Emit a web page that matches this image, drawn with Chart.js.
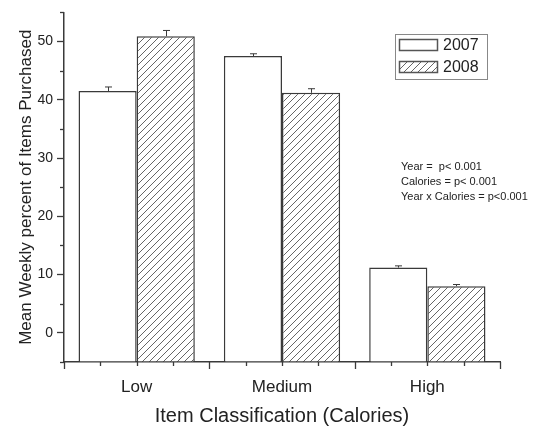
<!DOCTYPE html>
<html>
<head>
<meta charset="utf-8">
<script src="https://cdn.jsdelivr.net/npm/chart.js@4/dist/chart.umd.min.js"></script>
<style>
  html, body { margin: 0; padding: 0; background: #fff; }
  #wrap { width: 534px; height: 431px; }
</style>
</head>
<body>
<div id="wrap"><canvas id="bars" width="534" height="431"></canvas></div>
<script>
// values
var categories = ["Low", "Medium", "High"];
var years = ["2007", "2008"];
var mean2007 = [41.5, 47.5, 11.2];
var mean2008 = [50.9, 41.2, 8.0];
var err2007 = [0.7, 0.4, 0.3];
var err2008 = [1.0, 0.7, 0.3];
var notes = ["Year =  p< 0.001", "Calories = p< 0.001", "Year x Calories = p<0.001"];

var ink = "#3a3a3a";
var canvas = document.getElementById("bars");
var ctx = canvas.getContext("2d");

// diagonal hatch for 2008
function hatch() {
	var t = document.createElement("canvas");
	t.width = 7; t.height = 7;
	var g = t.getContext("2d");
	g.fillStyle = "#fff";
	g.fillRect(0, 0, 7, 7);
	g.strokeStyle = "#666";
	g.lineWidth = 1;
	g.beginPath();
	g.moveTo(0, 7); g.lineTo(7, 0);
	g.moveTo(-1, 1); g.lineTo(1, -1);
	g.moveTo(6, 8); g.lineTo(8, 6);
	g.stroke();
	return ctx.createPattern(t, "repeat");
}
var hatchFill = hatch();

// error caps, minor ticks, legend box and the p-value notes
var extras = {
	id: "extras",
	afterDatasetsDraw: function(chart) {
		var c = chart.ctx;
		var y = chart.scales.y, x = chart.scales.x;
		var errs = [err2007, err2008];
		c.save();
		c.strokeStyle = ink;
		c.lineWidth = 1;
		chart.data.datasets.forEach(function(ds, di) {
			var meta = chart.getDatasetMeta(di);
			meta.data.forEach(function(bar, i) {
				var top = y.getPixelForValue(ds.data[i] + errs[di][i]);
				var cx = Math.round(bar.x) + 0.5;
				c.beginPath();
				c.moveTo(cx, bar.y);
				c.lineTo(cx, top);
				c.moveTo(cx - 3.5, top);
				c.lineTo(cx + 3.5, top);
				c.stroke();
			});
		});

		// y minor ticks every 5
		c.lineWidth = 1.3;
		for (var v = -5; v <= 55; v += 10) {
			var py = Math.round(y.getPixelForValue(v)) + 0.5;
			c.beginPath();
			c.moveTo(y.right - 4, py);
			c.lineTo(y.right, py);
			c.stroke();
		}
		// x ticks: long at category edges, short at quarters
		var w = (x.right - x.left) / categories.length;
		for (var k = 0; k <= categories.length * 4; k++) {
			var px = Math.round(x.left + k * w / 4) + 0.5;
			var len = (k % 4 === 0) ? 7 : 4;
			c.beginPath();
			c.moveTo(px, x.top);
			c.lineTo(px, x.top + len);
			c.stroke();
		}

		// legend
		var lx = 395, ly = 34;
		c.strokeStyle = "#888";
		c.lineWidth = 1;
		c.strokeRect(lx + 0.5, ly + 0.5, 92, 45);
		c.font = "16px 'Liberation Sans', Arial, sans-serif";
		c.textBaseline = "middle";
		c.textAlign = "left";
		chart.data.datasets.forEach(function(ds, di) {
			var ry = ly + 5 + di * 22;
			c.fillStyle = ds.backgroundColor;
			c.fillRect(lx + 4, ry, 39, 12);
			c.strokeStyle = "#555";
			c.lineWidth = 1.5;
			c.strokeRect(lx + 4.5, ry + 0.5, 38, 11);
			c.fillStyle = "#222";
			c.fillText(ds.label, lx + 48, ry + 7);
		});

		// notes
		c.font = "11px 'Liberation Sans', Arial, sans-serif";
		c.fillStyle = "#222";
		notes.forEach(function(t, i) {
			c.fillText(t, 401, 167 + i * 15);
		});
		c.restore();
	}
};

var chart = new Chart(ctx, {
	type: "bar",
	data: {
		labels: categories,
		datasets: [
			{
				label: years[0],
				data: mean2007,
				base: -5,
				backgroundColor: "#ffffff",
				borderColor: ink,
				borderWidth: 1.5,
				borderSkipped: "start"
			},
			{
				label: years[1],
				data: mean2008,
				base: -5,
				backgroundColor: hatchFill,
				borderColor: ink,
				borderWidth: 1.5,
				borderSkipped: "start"
			}
		]
	},
	options: {
		responsive: false,
		animation: false,
		events: [],
		categoryPercentage: 0.8,
		barPercentage: 1.0,
		layout: { padding: { top: 9, right: 34, left: 0, bottom: 0 } },
		plugins: {
			legend: { display: false },
			tooltip: { enabled: false }
		},
		scales: {
			x: {
				grid: { display: true, drawOnChartArea: false, drawTicks: true, tickLength: 7, tickColor: "rgba(0,0,0,0)" },
				border: { display: true, color: ink, width: 1.5 },
				ticks: { color: "#222", padding: 8, font: { family: "'Liberation Sans', Arial, sans-serif", size: 17 } },
				title: {
					display: true,
					text: "Item Classification (Calories)",
					color: "#222",
					padding: { top: 2, bottom: 3 },
					font: { family: "'Liberation Sans', Arial, sans-serif", size: 20 }
				},
				afterFit: function(s) { s.height = 69; }
			},
			y: {
				min: -5,
				max: 55,
				grid: {
					display: true,
					drawOnChartArea: false,
					tickLength: 7,
					tickWidth: 1.3,
					tickColor: function(c) {
						var v = c.tick ? c.tick.value : 1;
						return (v % 10 === 0) ? ink : "rgba(0,0,0,0)";
					}
				},
				border: { display: true, color: ink, width: 1.5 },
				ticks: {
					stepSize: 5,
					color: "#222",
					padding: 4,
					font: { family: "'Liberation Sans', Arial, sans-serif", size: 14 },
					callback: function(v) { return (v % 10 === 0 && v >= 0 && v <= 50) ? v : ""; }
				},
				title: {
					display: true,
					text: "Mean Weekly percent of Items Purchased",
					color: "#222",
					padding: { top: 16, bottom: 2 },
					font: { family: "'Liberation Sans', Arial, sans-serif", size: 17 }
				},
				afterFit: function(s) { s.width = 64; }
			}
		}
	},
	plugins: [extras]
});
</script>
</body>
</html>
